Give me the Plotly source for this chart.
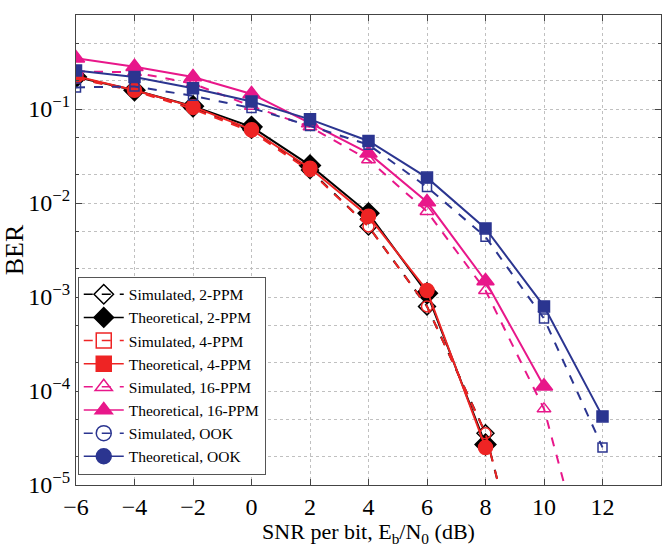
import plotly.graph_objects as go

snr = [-6, -4, -2, 0, 2, 4, 6, 8, 10, 12]
x_ticks = [-6, -4, -2, 0, 2, 4, 6, 8, 10, 12, 14]
y_ticks = [1, 1e-1, 1e-2, 1e-3, 1e-4, 1e-5]
y_ticktext = ["10<sup>0</sup>", "10<sup>\u22121</sup>", "10<sup>\u22122</sup>",
              "10<sup>\u22123</sup>", "10<sup>\u22124</sup>", "10<sup>\u22125</sup>"]

# log10(BER)
black_sim = [-0.67, -0.80, -0.99, -1.22, -1.65, -2.25, -3.10, -4.45, -6.9]
black_th = [-0.66, -0.80, -0.97, -1.19, -1.60, -2.11, -2.96, -4.57]
red_sim = [-0.67, -0.81, -1.00, -1.24, -1.66, -2.25, -3.10, -4.45, -6.9]
red_th = [-0.65, -0.80, -0.975, -1.22, -1.63, -2.14, -2.93, -4.60]
mag_sim = [-0.60, -0.61, -0.73, -0.97, -1.19, -1.54, -2.09, -2.93, -4.19, -6.5]
mag_th = [-0.46, -0.55, -0.66, -0.84, -1.15, -1.47, -1.99, -2.83, -3.95]
blue_sim = [-0.77, -0.76, -0.86, -0.99, -1.18, -1.38, -1.83, -2.36, -3.23, -4.60]
blue_th = [-0.59, -0.66, -0.78, -0.92, -1.11, -1.34, -1.73, -2.27, -3.10, -4.27]

labels = ["Simulated, 2-PPM", "Theoretical, 2-PPM",
          "Simulated, 4-PPM", "Theoretical, 4-PPM",
          "Simulated, 16-PPM", "Theoretical, 16-PPM",
          "Simulated, OOK", "Theoretical, OOK"]

BLACK = "#000000"
RED = "#ee2424"
MAG = "#e8178a"
BLUE = "#2b3590"

series = [
    (black_sim, BLACK, "dash", "diamond-open", 13),
    (black_th, BLACK, "solid", "diamond", 16),
    (red_sim, RED, "dash", "circle-open", 11),
    (red_th, RED, "solid", "circle", 14),
    (mag_sim, MAG, "dash", "triangle-up-open", 12),
    (mag_th, MAG, "solid", "triangle-up", 15),
    (blue_sim, BLUE, "dash", "square-open", 9),
    (blue_th, BLUE, "solid", "square", 11),
]
legend_symbols = ["diamond-open", "diamond", "square-open", "square",
                  "triangle-up-open", "triangle-up", "circle-open", "circle"]

fig = go.Figure()
for vals, col, dash, sym, size in series:
    fig.add_trace(go.Scatter(
        x=snr[:len(vals)], y=[10 ** v for v in vals], mode="lines+markers",
        line=dict(color=col, width=2, dash=dash),
        marker=dict(symbol=sym, size=size, color=col, line=dict(color=col, width=1.5)),
        showlegend=False, cliponaxis=True))

for i, (vals, col, dash, sym, size) in enumerate(series):
    fig.add_trace(go.Scatter(
        x=[None], y=[None], mode="lines+markers", name=labels[i],
        line=dict(color=col, width=1.5, dash=dash),
        marker=dict(symbol=legend_symbols[i], size=15, color=col,
                    line=dict(color=col, width=1.5))))

grid = "#c0c0c0"
fig.update_layout(
    width=670, height=547,
    margin=dict(l=67, r=8, t=15, b=62),
    paper_bgcolor="white", plot_bgcolor="white",
    font=dict(family="Liberation Serif", size=22, color="black"),
    showlegend=True,
    legend=dict(x=0.003, y=0.022, xanchor="left", yanchor="bottom",
                bgcolor="white", bordercolor="#555555", borderwidth=1,
                font=dict(family="Liberation Serif", size=15.5),
                tracegroupgap=0, itemwidth=40),
    xaxis=dict(range=[-6, 14], tickvals=x_ticks, ticks="inside", ticklen=6,
               showline=True, linecolor="#444444", linewidth=1, mirror="ticks",
               showgrid=True, gridcolor=grid, griddash="dot", gridwidth=1,
               zeroline=False, tickfont=dict(size=24),
               title=dict(text="SNR per bit, E<sub>b</sub>/N<sub>0</sub> (dB)",
                          font=dict(size=22), standoff=4)),
    yaxis=dict(type="log", range=[-5, 0], tickvals=y_ticks, ticktext=y_ticktext,
               ticks="inside", ticklen=6,
               showline=True, linecolor="#444444", linewidth=1, mirror="ticks",
               showgrid=True, gridcolor=grid, griddash="dot", gridwidth=1,
               minor=dict(ticks="inside", ticklen=3, showgrid=True,
                          gridcolor=grid, griddash="dot", gridwidth=1),
               tickfont=dict(size=24),
               title=dict(text="BER", font=dict(size=26), standoff=2)),
)

fig.write_html("out.html")
